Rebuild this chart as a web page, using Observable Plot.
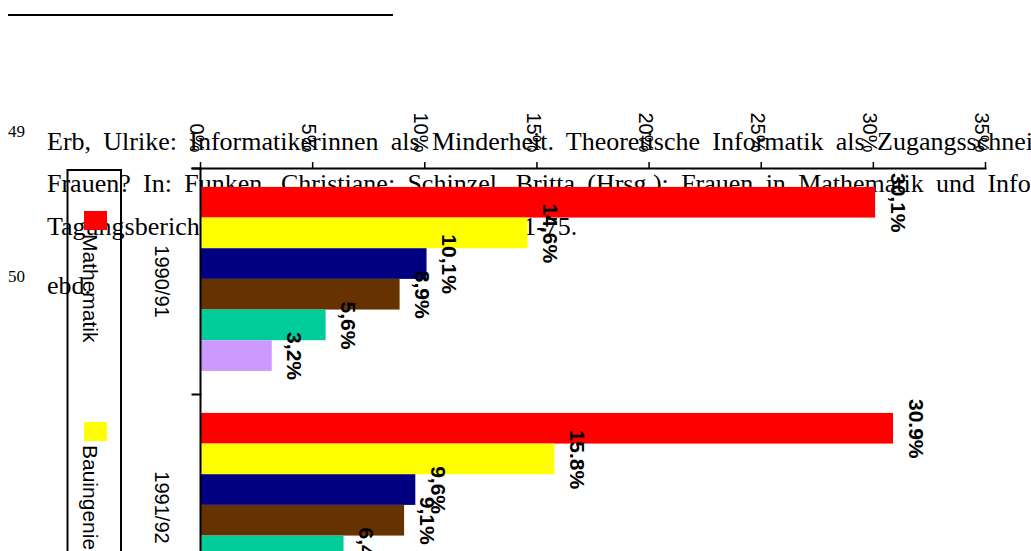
<!DOCTYPE html>
<html><head><meta charset="utf-8">
<script src="https://cdn.jsdelivr.net/npm/d3@7"></script>
<script src="https://cdn.jsdelivr.net/npm/@observablehq/plot@0.6"></script>
<style>
html,body{margin:0;padding:0;background:#fff;}
body{width:1031px;height:551px;overflow:hidden;position:relative;}
#doc,#chart,#legend{position:absolute;left:0;top:0;}
#doc text{font-family:"Liberation Serif","Times New Roman",serif;fill:#000;}
.just{word-spacing:5.8px;}
</style></head><body>
<svg id="doc" width="1031" height="551">
  <line x1="8" x2="393" y1="15" y2="15" stroke="#000" stroke-width="2"/>
  <text x="8" y="137" font-size="17">49</text>
  <text class="just" x="47" y="149.5" font-size="26">Erb, Ulrike: Informatikerinnen als Minderheit. Theoretische Informatik als Zugangsschneise für</text>
  <text class="just" x="47" y="192" font-size="26">Frauen? In: Funken, Christiane; Schinzel, Britta (Hrsg.): Frauen in Mathematik und Informatik.</text>
  <text x="47" y="234.5" font-size="26">Tagungsbericht. Universität Kassel 1990, S. 61-75.</text>
  <text x="8" y="282" font-size="17">50</text>
  <text x="47" y="294" font-size="26">ebd.</text>
</svg>
<div id="chart"></div>
<svg id="legend" width="1031" height="551"></svg>
<script>
// ---- data ----
const years = ["1990/91", "1991/92"];
const series = ["Mathematik", "Bauingenieurwesen", "Physik", "Informatik", "Maschinenbau", "Elektrotechnik"];
const colors = ["#ff0000", "#ffff00", "#000080", "#663300", "#00cc99", "#cc99ff"];
const values1990 = [30.1, 14.6, 10.1, 8.9, 5.6, 3.2];
const labels1990 = ["30,1%", "14,6%", "10,1%", "8,9%", "5,6%", "3,2%"];
const values1991 = [30.9, 15.8, 9.6, 9.1, 6.4];
const labels1991 = ["30.9%", "15.8%", "9,6%", "9,1%", "6,4%"];
const xTicks = [0, 5, 10, 15, 20, 25, 30, 35];

const data = [
  ...values1990.map((v, i) => ({year: years[0], series: series[i], value: v, label: labels1990[i]})),
  ...values1991.map((v, i) => ({year: years[1], series: series[i], value: v, label: labels1991[i]}))
];

const W = 1031, mL = 200, mR = 46;
const chart = Plot.plot({
  width: W, height: 640,
  marginLeft: mL, marginRight: mR, marginTop: 168, marginBottom: 20,
  style: {background: "transparent", fontFamily: "'Liberation Sans', Arial, sans-serif", fontSize: "20px", color: "#000", overflow: "visible"},
  x: {domain: [0, 35], axis: null, label: null},
  y: {domain: series, paddingInner: 0, paddingOuter: 0.685, align: 0.45, axis: null, round: false},
  fy: {domain: years, padding: 0, axis: null, round: false, label: null},
  color: {domain: series, range: colors},
  marks: [
    Plot.barX(data, {x: "value", y: "series", fy: "year", fill: "series"}),
    Plot.ruleX([0], {strokeWidth: 2}),
    Plot.frame({anchor: "top", facetAnchor: "top", insetLeft: -8, strokeWidth: 2}),
    Plot.frame({anchor: "top", insetLeft: -8, insetRight: W - mL - mR, strokeWidth: 2}),
    Plot.axisX({anchor: "top", ticks: xTicks, tickSize: 7, text: null, label: null, strokeWidth: 1.5}),
    Plot.axisX({anchor: "top", ticks: xTicks, tickFormat: d => d + "%", label: null, tickSize: 0, tickPadding: 16, tickRotate: 90, textAnchor: "end", lineAnchor: "middle", dx: -4}),
    Plot.axisFy({anchor: "left", label: null, tickSize: 0, tickPadding: 39, tickRotate: 90, textAnchor: "middle", lineAnchor: "middle"}),
    Plot.text(data, {x: "value", y: "series", fy: "year", text: "label", rotate: 90, textAnchor: "middle", lineAnchor: "bottom", dx: 15, fontWeight: "bold", fontSize: 21})
  ]
});
document.getElementById("chart").append(chart);

// ---- legend (rotated, left side) ----
const leg = d3.select("#legend");
leg.append("rect").attr("x", 67.5).attr("y", 170).attr("width", 53.5).attr("height", 1400)
  .attr("fill", "none").attr("stroke", "#000").attr("stroke-width", 2);
series.forEach((s, i) => {
  const y0 = 211 + 211 * i;
  leg.append("rect").attr("x", 84).attr("y", y0).attr("width", 23).attr("height", 19).attr("fill", colors[i]);
  leg.append("text").attr("transform", `translate(83,${y0 + 23}) rotate(90)`)
    .attr("font-family", "'Liberation Sans', Arial, sans-serif").attr("font-size", 21).text(s);
});
</script>
</body></html>
